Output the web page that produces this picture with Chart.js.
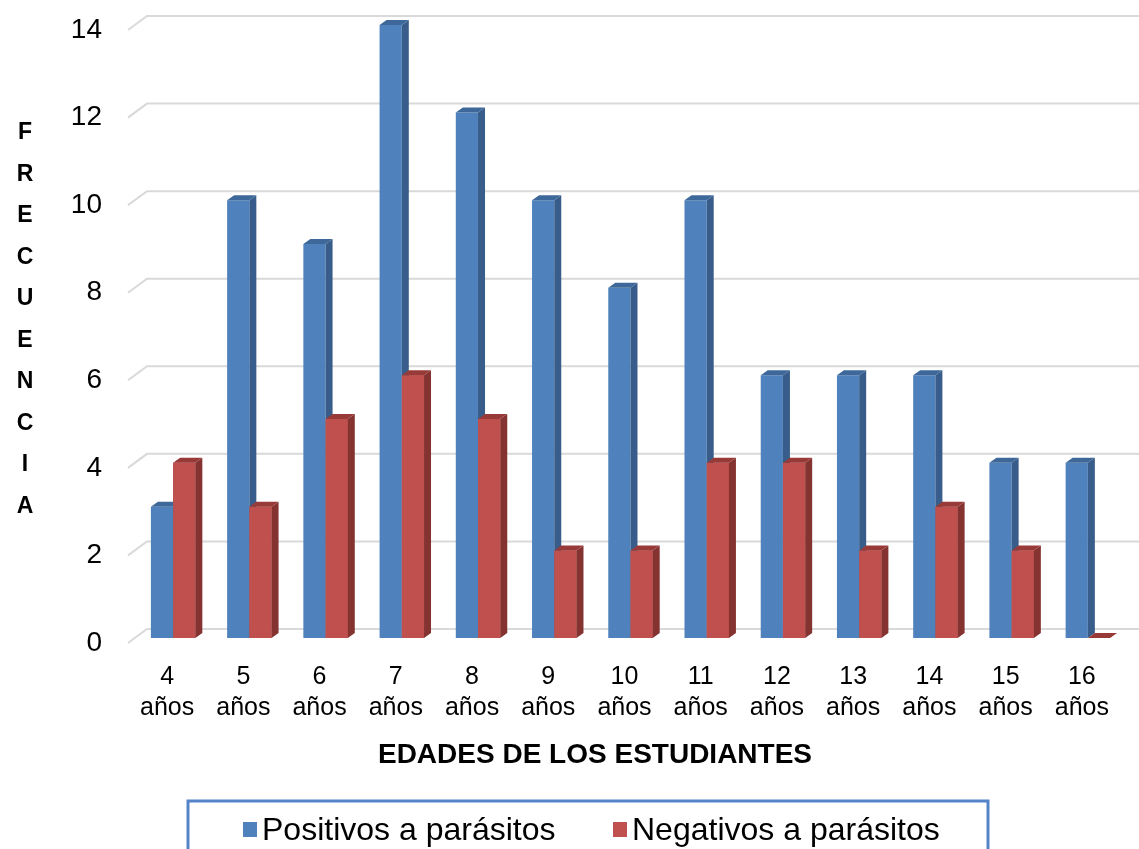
<!DOCTYPE html>
<html>
<head>
<meta charset="utf-8">
<script src="https://cdn.jsdelivr.net/npm/chart.js@4/dist/chart.umd.min.js"></script>
<style>
  html, body { margin: 0; padding: 0; background: #ffffff; }
  canvas { display: block; }
</style>
</head>
<body>
<canvas id="chart" width="1139" height="849"></canvas>
<script>
// Ages of the students (two-line tick labels)
const categories = [
  ["4", "años"], ["5", "años"], ["6", "años"], ["7", "años"], ["8", "años"],
  ["9", "años"], ["10", "años"], ["11", "años"], ["12", "años"], ["13", "años"],
  ["14", "años"], ["15", "años"], ["16", "años"]
];
// Frequencies per age
const positivos = [3, 10, 9, 14, 12, 10, 8, 10, 6, 6, 6, 4, 4];
const negativos = [4, 3, 5, 6, 5, 2, 2, 4, 4, 2, 3, 2, 0];
const seriesNames = ["Positivos a parásitos", "Negativos a parásitos"];
// Value axis
const yMin = 0;
const yMax = 14;
const yStep = 2;
const yTitle = "FRECUENCIA";
const xTitle = "EDADES DE LOS ESTUDIANTES";

const FONT = "'Liberation Sans', Arial, Helvetica, sans-serif";
const DEPTH_X = 7;   // bar depth (horizontal)
const DEPTH_Y = 5;   // bar depth (vertical)

const faceColors = [
  { front: "#4F81BD", side: "#385D8A", top: "#3E6899" },
  { front: "#C0504D", side: "#853331", top: "#983B38" }
];

// Back wall gridlines with a short slanted lead-in on the left
const backWall = {
  id: "backWall",
  beforeDatasetsDraw(chart) {
    const { ctx, chartArea } = chart;
    const y = chart.scales.y;
    ctx.save();
    ctx.strokeStyle = "#D9D9D9";
    ctx.lineWidth = 2;
    y.ticks.forEach(t => {
      const py = y.getPixelForValue(t.value);
      ctx.beginPath();
      ctx.moveTo(chartArea.left - 7, py + 5);
      ctx.lineTo(chartArea.left + 12, py - 9);
      ctx.lineTo(chart.width, py - 9);
      ctx.stroke();
    });
    ctx.restore();
  }
};

function drawFaces(ctx, el, c) {
  const p = el.getProps(["x", "y", "base", "width"], true);
  const l = p.x - p.width / 2;
  const r = p.x + p.width / 2;
  const top = Math.min(p.y, p.base);
  const bot = Math.max(p.y, p.base);
  // side face
  ctx.fillStyle = c.side;
  ctx.beginPath();
  ctx.moveTo(r, top);
  ctx.lineTo(r + DEPTH_X, top - DEPTH_Y);
  ctx.lineTo(r + DEPTH_X, bot - DEPTH_Y);
  ctx.lineTo(r, bot);
  ctx.closePath();
  ctx.fill();
  // top face
  ctx.fillStyle = c.top;
  ctx.beginPath();
  ctx.moveTo(l, top);
  ctx.lineTo(l + DEPTH_X, top - DEPTH_Y);
  ctx.lineTo(r + DEPTH_X, top - DEPTH_Y);
  ctx.lineTo(r, top);
  ctx.closePath();
  ctx.fill();
}

// Depth faces, layered left series first so the right series sits in front
const barDepth = {
  id: "barDepth",
  afterDatasetsDraw(chart) {
    const { ctx } = chart;
    const metas = [chart.getDatasetMeta(0), chart.getDatasetMeta(1)];
    ctx.save();
    metas[0].data.forEach(el => drawFaces(ctx, el, faceColors[0]));
    metas[1].data.forEach(el => {
      el.draw(ctx);
      drawFaces(ctx, el, faceColors[1]);
    });
    ctx.restore();
  }
};

// Axis titles and the boxed legend
const annotations = {
  id: "annotations",
  afterDraw(chart) {
    const { ctx } = chart;
    ctx.save();
    ctx.fillStyle = "#000000";
    // vertical letter-stacked title
    ctx.font = "bold 23px " + FONT;
    ctx.textAlign = "center";
    ctx.textBaseline = "middle";
    yTitle.split("").forEach((ch, i) => {
      ctx.fillText(ch, 25, 133 + i * 41.5);
    });
    // horizontal axis title
    ctx.font = "bold 28px " + FONT;
    ctx.fillText(xTitle, 595, 755);

    // legend box
    ctx.fillStyle = "#ffffff";
    ctx.fillRect(188, 801, 800, 60);
    ctx.strokeStyle = "#5584C8";
    ctx.lineWidth = 3;
    ctx.strokeRect(188, 801, 800, 60);
    ctx.font = "32px " + FONT;
    ctx.textAlign = "left";
    ctx.textBaseline = "alphabetic";
    const items = [
      { x: 243, color: chart.data.datasets[0].backgroundColor, text: chart.data.datasets[0].label },
      { x: 613, color: chart.data.datasets[1].backgroundColor, text: chart.data.datasets[1].label }
    ];
    items.forEach(it => {
      ctx.fillStyle = it.color;
      ctx.fillRect(it.x, 822, 14, 15);
      ctx.fillStyle = "#000000";
      ctx.fillText(it.text, it.x + 19, 840);
    });
    ctx.restore();
  }
};

new Chart(document.getElementById("chart"), {
  type: "bar",
  data: {
    labels: categories,
    datasets: [
      { label: seriesNames[0], data: positivos, backgroundColor: faceColors[0].front },
      { label: seriesNames[1], data: negativos, backgroundColor: faceColors[1].front }
    ]
  },
  options: {
    responsive: false,
    animation: false,
    layout: { padding: { left: 0, right: 1, top: 25, bottom: 0 } },
    datasets: {
      bar: { categoryPercentage: 0.583, barPercentage: 1.0, borderWidth: 0 }
    },
    plugins: {
      legend: { display: false },
      tooltip: { enabled: false },
      title: { display: false }
    },
    scales: {
      x: {
        offset: true,
        grid: { display: false, drawTicks: false },
        border: { display: false },
        ticks: {
          color: "#000000",
          font: { family: FONT, size: 25, lineHeight: 1.24 },
          padding: 24,
          labelOffset: -6,
          autoSkip: false,
          maxRotation: 0,
          minRotation: 0
        },
        afterFit(scale) { scale.height = 211; }
      },
      y: {
        min: yMin,
        max: yMax,
        grid: { display: false, drawTicks: false },
        border: { display: false },
        ticks: {
          stepSize: yStep,
          color: "#000000",
          font: { family: FONT, size: 28 },
          padding: 33,
          labelOffset: 5
        },
        afterFit(scale) {
          scale.width = 135;
          scale.paddingTop = 0;
          scale.paddingBottom = 0;
        }
      }
    }
  },
  plugins: [backWall, barDepth, annotations]
});
</script>
</body>
</html>
